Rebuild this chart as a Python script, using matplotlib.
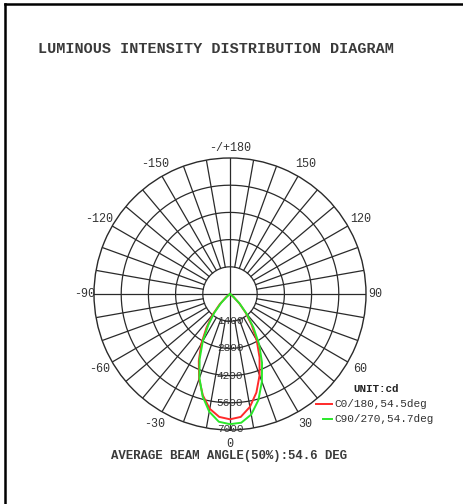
import numpy as np
import matplotlib.pyplot as plt
from matplotlib.lines import Line2D

# data (cd against gamma angle, 0 = straight down)
angles = [-90, -60, -55, -50, -45, -40, -35, -30, -25, -20, -15, -10, -5, 0,
          5, 10, 15, 20, 25, 30, 35, 40, 45, 50, 55, 60, 90]
c0_180 = [0, 0, 70, 280, 750, 1380, 2100, 2950, 3800, 4650, 5400, 6000, 6350, 6450,
          6350, 5900, 5250, 4450, 3600, 2750, 1950, 1250, 680, 240, 50, 0, 0]
c90_270 = [0, 0, 40, 200, 640, 1250, 1950, 2800, 3700, 4600, 5450, 6150, 6600, 6700,
           6650, 6300, 5650, 4800, 3900, 3000, 2100, 1330, 700, 230, 40, 0, 0]

ring_values = [1400, 2800, 4200, 5600, 7000]
angle_ticks = [0, 30, 60, 90, 120, 150, 180, -150, -120, -90, -60, -30]
angle_labels = ['0', '30', '60', '90', '120', '150', '-/+180',
                '-150', '-120', '-90', '-60', '-30']
legend_names = ['C0/180,54.5deg', 'C90/270,54.7deg']
title = 'LUMINOUS INTENSITY DISTRIBUTION DIAGRAM'
beam_text = 'AVERAGE BEAM ANGLE(50%):54.6 DEG'

W, H = 463, 504
fig = plt.figure(figsize=(W / 100, H / 100), dpi=100)
mono = 'Liberation Mono'
grid_col = '#2a2a2a'

# frame (only left and top edges are visible in the reference)
fig.add_artist(Line2D([5 / W, 5 / W], [0, 1 - 4 / H], color='black', lw=1.8))
fig.add_artist(Line2D([5 / W, 1], [1 - 4 / H, 1 - 4 / H], color='black', lw=1.8))

cx, cy, rad = 230, 294, 136
ax = fig.add_axes([(cx - rad) / W, (H - cy - rad) / H, 2 * rad / W, 2 * rad / H],
                  projection='polar')
ax.set_theta_zero_location('S')
ax.set_theta_direction(1)
rmax = ring_values[-1]
ax.set_ylim(0, rmax)
ax.grid(False)
ax.set_xticks([])
ax.set_yticks([])
ax.spines['polar'].set_color(grid_col)
ax.spines['polar'].set_linewidth(1.0)

full = np.linspace(0, 2 * np.pi, 361)
for r in ring_values[:-1]:
    ax.plot(full, np.full_like(full, r), color=grid_col, lw=0.9)
for a in range(0, 360, 10):
    t = np.deg2rad(a)
    r0 = 0 if a % 90 == 0 else ring_values[0]
    ax.plot([t, t], [r0, rmax], color=grid_col, lw=0.9)

ax.plot(np.deg2rad(angles), c0_180, color='#ff2a2a', lw=1.4)
ax.plot(np.deg2rad(angles), c90_270, color='#2ae82a', lw=1.4)

for r in ring_values:
    rr = r - 60 if r == rmax else r
    ax.text(0, rr, str(r), ha='center', va='center', fontsize=8,
            family=mono, color='#333333')

for a, lab in zip(angle_ticks, angle_labels):
    if a == 0:
        rr = 7700
    elif a % 90 == 0:
        rr = 7500
    else:
        rr = 7750
    ax.text(np.deg2rad(a), rr, lab, ha='center', va='center', fontsize=8.5,
            family=mono, color='#333333')

fig.text(38 / W, 1 - 49 / H, title, ha='left', va='center', fontsize=10.9,
         family=mono, weight='bold', color='#3a3a3a')
fig.text(229 / W, 1 - 456 / H, beam_text, ha='center', va='center', fontsize=8.9,
         family=mono, weight='bold', color='#3a3a3a')

# legend
fig.text(353 / W, 1 - 389 / H, 'UNIT:cd', ha='left', va='center', fontsize=7.8,
         family=mono, weight='bold', color='#222222')
rows = [(404, 316, '#ff2a2a'), (419, 323, '#2ae82a')]
for (y, x0, col), name in zip(rows, legend_names):
    fig.add_artist(Line2D([x0 / W, 332 / W], [1 - y / H, 1 - y / H], color=col, lw=1.4))
    fig.text(334 / W, 1 - y / H, name, ha='left', va='center', fontsize=8,
             family=mono, color='#333333')

fig.savefig('out.png', dpi=100, facecolor='white')
